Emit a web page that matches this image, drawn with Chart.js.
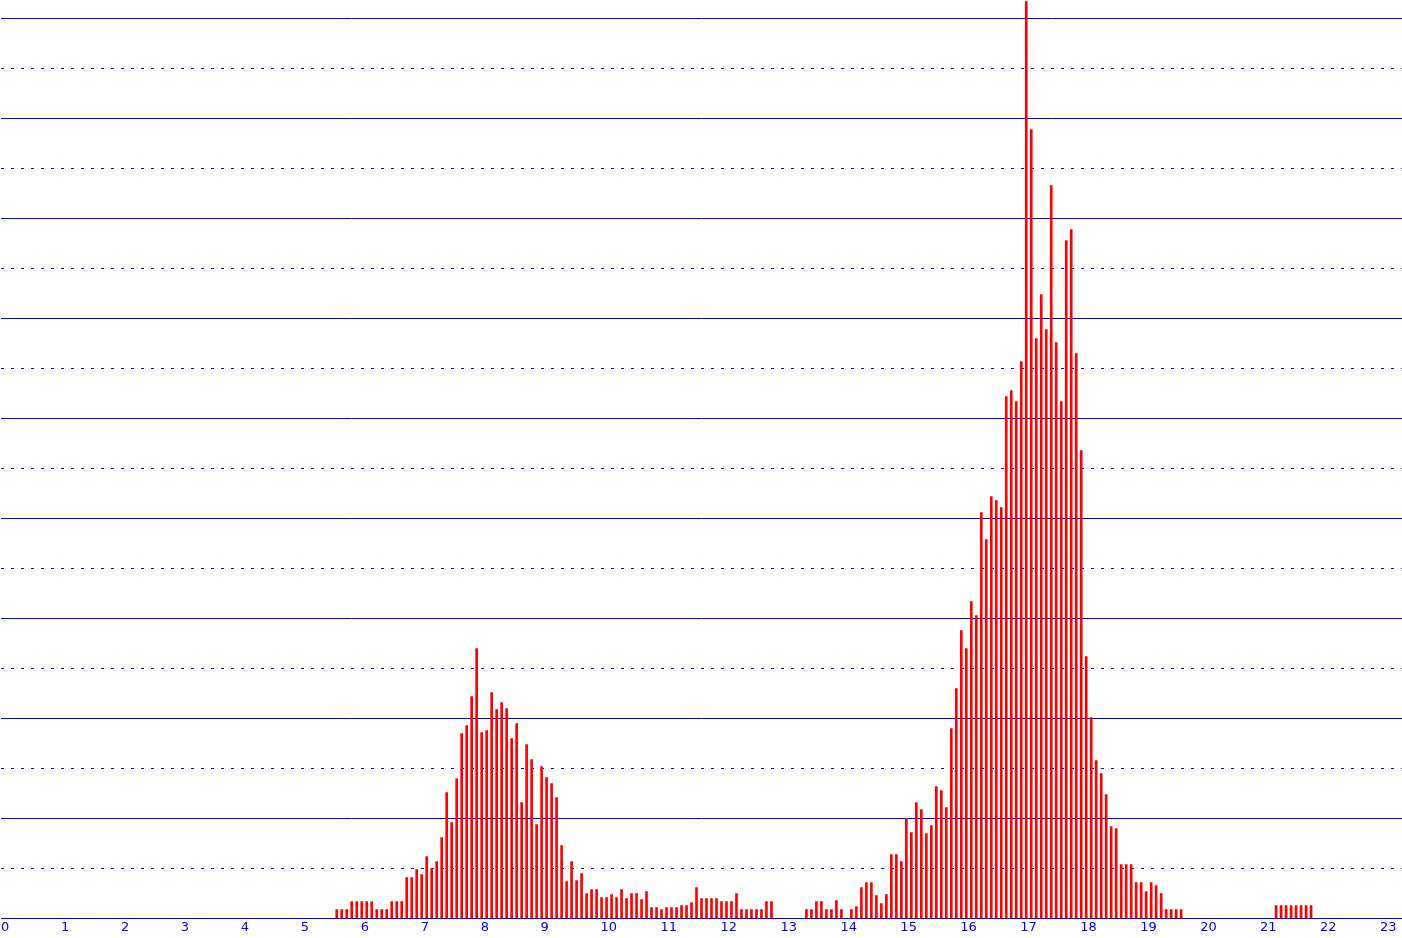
<!DOCTYPE html>
<html>
<head>
<meta charset="utf-8">
<script src="https://cdn.jsdelivr.net/npm/chart.js@4/dist/chart.umd.min.js"></script>
<style>
  html, body { margin: 0; padding: 0; background: #fff; overflow: hidden; }
  #wrap { width: 1402px; height: 938px; }
</style>
</head>
<body>
<div id="wrap"><canvas id="chart" width="1402" height="938"></canvas></div>
<script>
// 5-minute slots, first slot at 05:35, last at 21:50
const firstSlotMinute = 5 * 60 + 35;
const slotLength = 5;

// counts per slot
const counts = [
    9, 9, 9, 17, 17, 17, 17, 17, 9, 9, 9, 17, 17, 17,
    41, 41, 49, 44, 62, 50, 57, 81, 126, 96, 140, 185, 193, 222,
    270, 186, 188, 226, 209, 216, 210, 180, 195, 116, 174, 159, 94, 152,
    141, 135, 121, 73, 37, 57, 38, 45, 25, 29, 29, 21, 21, 24,
    21, 29, 20, 25, 25, 19, 27, 11, 11, 9, 11, 11, 11, 13,
    13, 16, 31, 20, 20, 20, 20, 17, 17, 17, 25, 9, 9, 9,
    9, 9, 17, 17, 0, 0, 0, 0, 0, 0, 9, 9, 17, 17,
    9, 9, 18, 9, 0, 9, 12, 31, 36, 36, 23, 15, 24, 64,
    64, 57, 100, 86, 116, 109, 85, 93, 132, 128, 111, 190, 230, 288,
    270, 317, 303, 406, 379, 422, 418, 411, 522, 528, 517, 557, 917, 789,
    580, 624, 589, 733, 576, 517, 678, 689, 565, 468, 262, 201, 158, 145,
    124, 92, 90, 54, 54, 54, 36, 36, 27, 36, 33, 25, 9, 9,
    9, 9, 0, 0, 0, 0, 0, 0, 0, 0, 0, 0, 0, 0,
    0, 0, 0, 0, 0, 0, 13, 13, 13, 13, 13, 13, 13, 13
];

// hour ticks 0..23
const hourLabels = ["0","1","2","3","4","5","6","7","8","9","10","11","12","13","14","15","16","17","18","19","20","21","22","23"];

const xMaxMinute = 1402;
const yMax = 918.5;

const points = counts.map((c, i) => ({ x: firstSlotMinute + i * slotLength + 1, y: c }))
    .filter(p => p.y > 0);

new Chart(document.getElementById("chart"), {
    type: 'bar',
    data: {
        datasets: [{
            data: points,
            backgroundColor: '#ff0000',
            borderWidth: 0,
            barThickness: 2,
            grouped: false
        }]
    },
    options: {
        responsive: false,
        animation: false,
        events: [],
        layout: { padding: 0, autoPadding: false },
        plugins: { legend: { display: false }, tooltip: { enabled: false } },
        scales: {
            x: {
                type: 'linear',
                offset: false,
                min: 0,
                max: xMaxMinute,
                grid: { display: false, drawTicks: false, offset: false },
                border: { display: false },
                afterFit: (scale) => { scale.height = 19.5; },
                ticks: {
                    stepSize: 60,
                    includeBounds: false,
                    autoSkip: false,
                    maxRotation: 0,
                    align: 'start',
                    padding: 1,
                    color: '#0000ff',
                    font: { family: 'DejaVu Sans', size: 13 },
                    callback: (v) => (v % 60 === 0 ? hourLabels[v / 60] : '')
                }
            },
            y: {
                min: 0,
                max: yMax,
                grid: {
                    drawTicks: false,
                    color: (ctx) => (ctx.tick && ctx.tick.value % 50 === 0) ? '#0000ff' : 'rgba(0,0,0,0)',
                    lineWidth: 1
                },
                border: {
                    display: false,
                    dash: (ctx) => (ctx.tick && ctx.tick.value % 100 !== 0) ? [3, 7] : []
                },
                ticks: { display: false, stepSize: 50, includeBounds: false }
            }
        }
    }
});
</script>
</body>
</html>
